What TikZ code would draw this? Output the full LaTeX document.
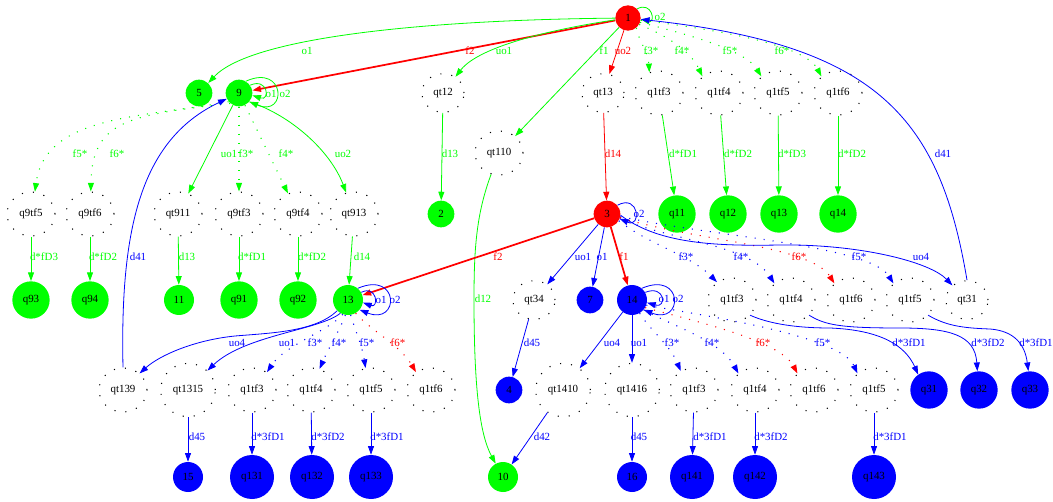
\documentclass[tikz,border=0pt]{standalone}
\usepackage{fontspec}
\setmainfont{Liberation Serif}
\usetikzlibrary{arrows.meta,shapes.geometric}
\definecolor{gg}{RGB}{0,255,0}
\definecolor{rr}{RGB}{255,0,0}
\definecolor{bb}{RGB}{0,0,255}
\begin{document}
\begin{tikzpicture}[x=0.75pt,y=-0.75pt,
  every node/.style={font=\fontsize{8.2}{9}\selectfont, inner sep=0pt},
  sm/.style={circle, fill=#1, minimum size=20pt},
  md/.style={circle, fill=#1, minimum size=22.5pt},
  lg/.style={circle, fill=#1, minimum size=28pt},
  xl/.style={circle, fill=#1, minimum size=33pt},
  dn/.style={ellipse, draw=black, line width=0.8pt, dash pattern=on 0.8pt off 7.5pt, minimum width=36pt, minimum height=33pt},
  dnf/.style={dn, minimum width=31.5pt, minimum height=29pt},
  dns/.style={dn, minimum width=41pt, minimum height=40pt},
  ed/.style={draw=#1, line width=0.6pt, -{Triangle[length=6.5pt,width=4.5pt]}},
  dd/.style={ed=#1, line width=0.8pt, dash pattern=on 0.8pt off 6pt},
  thk/.style={line width=1.3pt},
  lab/.style={text=#1}]
\useasboundingbox (0,0) rectangle (1053,502);
% ---- nodes
\node[sm=rr, minimum size=19pt] (n1) at (628,18) {1};
\node[sm=gg] (n5) at (199,93) {5};
\node[sm=gg] (n9) at (239,93) {9};
\node[dnf] (qt12) at (443,93) {qt12};
\node[dnf] (qt13) at (603,93) {qt13};
\node[dn] (a3) at (659,93) {q1tf3};
\node[dn] (a4) at (719,93) {q1tf4};
\node[dn] (a5) at (778,93) {q1tf5};
\node[dn] (a6) at (838,93) {q1tf6};
\node[dn] (qt110) at (499,153) {qt110};
\node[dn] (b5) at (31,214) {q9tf5};
\node[dn] (b6) at (90,214) {q9tf6};
\node[dn] (qt911) at (178,214) {qt911};
\node[dn] (b3) at (239,214) {q9tf3};
\node[dn] (b4) at (298,214) {q9tf4};
\node[dn] (qt913) at (354,214) {qt913};
\node[sm=gg] (n2) at (441,214) {2};
\node[sm=rr] (n3) at (607,214) {3};
\node[lg=gg] (q11) at (677,214) {q11};
\node[lg=gg] (q12) at (728,214) {q12};
\node[lg=gg] (q13) at (779,214) {q13};
\node[lg=gg] (q14) at (838,214) {q14};
\node[lg=gg] (q93) at (31,300) {q93};
\node[lg=gg] (q94) at (90,300) {q94};
\node[md=gg] (n11) at (179,300) {11};
\node[lg=gg] (q91) at (239,300) {q91};
\node[lg=gg] (q92) at (298,300) {q92};
\node[md=gg] (n13) at (348,300) {13};
\node[dnf] (qt34) at (534,300) {qt34};
\node[sm=bb] (n7) at (590,300) {7};
\node[md=bb] (n14) at (632,300) {14};
\node[dn] (c3) at (732,300) {q1tf3};
\node[dn] (c4) at (791,300) {q1tf4};
\node[dn] (c6) at (851,300) {q1tf6};
\node[dn] (c5) at (910,300) {q1tf5};
\node[dnf] (qt31) at (967,300) {qt31};
\node[dn] (qt139) at (123,390) {qt139};
\node[dns] (qt1315) at (188,390) {qt1315};
\node[dn] (d3) at (252,390) {q1tf3};
\node[dn] (d4) at (311,390) {q1tf4};
\node[dn] (d5) at (371,390) {q1tf5};
\node[dn] (d6) at (431,390) {q1tf6};
\node[sm=bb] (n4) at (509,390) {4};
\node[dns] (qt1410) at (563,390) {qt1410};
\node[dns] (qt1416) at (632,390) {qt1416};
\node[dn] (e3) at (694,390) {q1tf3};
\node[dn] (e4) at (755,390) {q1tf4};
\node[dn] (e6) at (814,390) {q1tf6};
\node[dn] (e5) at (874,390) {q1tf5};
\node[lg=bb] (q31) at (929,390) {q31};
\node[lg=bb] (q32) at (979,390) {q32};
\node[lg=bb] (q33) at (1030,390) {q33};
\node[md=bb] (n15) at (188,477) {15};
\node[xl=bb] (q131) at (252,477) {q131};
\node[xl=bb] (q132) at (312,477) {q132};
\node[xl=bb] (q133) at (371,477) {q133};
\node[md=gg] (n10) at (503,477) {10};
\node[md=bb] (n16) at (632,477) {16};
\node[xl=bb] (q141) at (692,477) {q141};
\node[xl=bb] (q142) at (755,477) {q142};
\node[xl=bb] (q143) at (874,477) {q143};
% ---- edges from 1
\draw[ed=gg] (n1) .. controls (420,20) and (250,38) .. (n5);
\draw[ed=rr, thk] (n1) -- (n9);
\draw[ed=gg] (n1) .. controls (560,28) and (480,45) .. (qt12);
\draw[ed=gg] (n1) -- (qt110);
\draw[ed=rr] (n1) -- (qt13);
\draw[ed=gg] (n1.45) .. controls +(15,-8) and +(15,4) .. (n1.-5);
\draw[dd=gg] (n1.-50) .. controls (640,45) and (648,50) .. (a3.115);
\draw[dd=gg] (n1.-30) .. controls (665,35) and (690,50) .. (a4.135);
\draw[dd=gg] (n1.-20) .. controls (690,35) and (745,50) .. (a5.135);
\draw[dd=gg] (n1.-10) .. controls (720,30) and (805,45) .. (a6.135);
\draw[ed=bb] (qt31.north) .. controls (940,120) and (880,45) .. (n1);
% ---- edges from 9
\draw[ed=gg] (n9.35) .. controls +(18,-8) and +(18,6) .. (n9.-10);
\draw[ed=gg] (n9.60) .. controls +(40,-18) and +(38,16) .. (n9.-40);
\draw[dd=gg] (n9.-140) .. controls (140,118) and (45,115) .. (b5.80);
\draw[dd=gg] (n9.-130) .. controls (130,115) and (92,120) .. (b6.88);
\draw[ed=gg] (n9) -- (qt911);
\draw[dd=gg] (n9) -- (b3);
\draw[dd=gg] (n9) -- (b4);
\draw[ed=gg] (n9.-40) .. controls (290,115) and (330,150) .. (qt913.110);
\draw[ed=bb] (qt139.north) .. controls (120,230) and (140,140) .. (n9);
% ---- row 1 -> row 2
\draw[ed=gg] (qt12) -- (n2);
\draw[ed=gg] (qt110) .. controls (476,215) and (474,250) .. (474,300) .. controls (474,390) and (480,435) .. (n10);
\draw[ed=rr] (qt13) -- (n3);
\draw[ed=gg] (a3) -- (q11);
\draw[ed=gg] (a4) -- (q12);
\draw[ed=gg] (a5) -- (q13);
\draw[ed=gg] (a6) -- (q14);
\draw[ed=gg] (b5) -- (q93);
\draw[ed=gg] (b6) -- (q94);
\draw[ed=gg] (qt911) -- (n11);
\draw[ed=gg] (b3) -- (q91);
\draw[ed=gg] (b4) -- (q92);
\draw[ed=gg] (qt913) -- (n13);
% ---- edges from 3
\draw[ed=bb] (n3.40) .. controls +(22,-12) and +(22,10) .. (n3.-20);
\draw[ed=rr, thk] (n3) -- (n13);
\draw[ed=bb] (n3) -- (qt34);
\draw[ed=bb] (n3) -- (n7);
\draw[ed=rr, thk] (n3) -- (n14);
\draw[dd=bb] (n3.-30) .. controls (650,245) and (690,255) .. (c3.130);
\draw[dd=bb] (n3.-20) .. controls (670,240) and (750,245) .. (c4.135);
\draw[dd=rr] (n3.-15) .. controls (690,240) and (810,245) .. (c6.135);
\draw[dd=bb] (n3.-10) .. controls (700,235) and (870,245) .. (c5.135);
\draw[ed=bb] (n3.-5) .. controls (660,245) and (720,246) .. (780,245) .. controls (860,244) and (930,262) .. (qt31.135);
\draw[ed=bb] (qt34) -- (n4);
\draw[ed=bb] (c3.-40) .. controls (765,322) and (790,328) .. (830,328) .. controls (880,330) and (905,345) .. (q31.125);
\draw[ed=bb] (c4.-40) .. controls (825,325) and (840,328) .. (900,328) .. controls (950,328) and (975,335) .. (q32.95);
\draw[ed=bb] (c5.-40) .. controls (945,325) and (960,328) .. (990,329) .. controls (1015,331) and (1025,345) .. (q33.95);
% ---- edges from 13
\draw[ed=bb] (n13.30) .. controls +(16,-8) and +(16,6) .. (n13.-10);
\draw[ed=bb] (n13.50) .. controls +(42,-18) and +(40,16) .. (n13.-40);
\draw[ed=bb] (n13.-135) .. controls (315,332) and (270,333) .. (235,336) .. controls (195,340) and (160,355) .. (qt139.45);
\draw[ed=bb] (n13.-120) .. controls (320,330) and (245,335) .. (qt1315.45);
\draw[dd=bb] (n13.-110) .. controls (330,330) and (285,345) .. (d3.50);
\draw[dd=bb] (n13.-100) .. controls (340,330) and (330,345) .. (d4.68);
\draw[dd=bb] (n13.-80) .. controls (355,330) and (362,345) .. (d5.104);
\draw[dd=rr] (n13.-60) .. controls (370,330) and (400,345) .. (d6.130);
\draw[ed=bb] (qt1315) -- (n15);
\draw[ed=bb] (d3) -- (q131);
\draw[ed=bb] (d4) -- (q132);
\draw[ed=bb] (d5) -- (q133);
% ---- edges from 14
\draw[ed=bb] (n14.30) .. controls +(20,-8) and +(20,6) .. (n14.-10);
\draw[ed=bb] (n14.50) .. controls +(42,-18) and +(40,16) .. (n14.-40);
\draw[ed=bb] (n14) -- (qt1410);
\draw[ed=bb] (n14) -- (qt1416);
\draw[dd=bb] (n14.-60) .. controls (650,330) and (670,345) .. (e3.125);
\draw[dd=bb] (n14.-40) .. controls (670,325) and (720,340) .. (e4.135);
\draw[dd=rr] (n14.-30) .. controls (690,320) and (780,340) .. (e6.135);
\draw[dd=bb] (n14.-20) .. controls (700,315) and (840,335) .. (e5.135);
\draw[ed=bb] (qt1410) -- (n10);
\draw[ed=bb] (qt1416) -- (n16);
\draw[ed=bb] (e3) -- (q141);
\draw[ed=bb] (e4) -- (q142);
\draw[ed=bb] (e5) -- (q143);
% ---- labels
\node[lab=gg] (l1) at (307,51) {o1};
\node[lab=rr] (l2) at (470,51) {f2};
\node[lab=gg] (l3) at (504,51) {uo1};
\node[lab=gg] (l4) at (604,51) {f1};
\node[lab=rr] (l5) at (623,51) {uo2};
\node[lab=gg] (l6) at (660,17) {o2};
\node[lab=gg] (l7) at (651,51) {f3*};
\node[lab=gg] (l8) at (682,51) {f4*};
\node[lab=gg] (l9) at (730,51) {f5*};
\node[lab=gg] (l10) at (782,51) {f6*};
\node[lab=gg] (l11) at (271,94) {o1};
\node[lab=gg] (l12) at (285,94) {o2};
\node[lab=gg] (l13) at (80,154) {f5*};
\node[lab=gg] (l14) at (117,154) {f6*};
\node[lab=gg] (l15) at (229,154) {uo1};
\node[lab=gg] (l16) at (246,154) {f3*};
\node[lab=gg] (l17) at (286,154) {f4*};
\node[lab=gg] (l18) at (343,154) {uo2};
\node[lab=gg] (l19) at (450,154) {d13};
\node[lab=rr] (l20) at (613,154) {d14};
\node[lab=gg] (l21) at (683,154) {d*fD1};
\node[lab=gg] (l22) at (738,154) {d*fD2};
\node[lab=gg] (l23) at (792,154) {d*fD3};
\node[lab=gg] (l24) at (852,154) {d*fD2};
\node[lab=bb] (l25) at (943,154) {d41};
\node[lab=bb] (l26) at (639,214) {o2};
\node[lab=gg] (l27) at (44,257) {d*fD3};
\node[lab=gg] (l28) at (103,257) {d*fD2};
\node[lab=bb] (l29) at (138,257) {d41};
\node[lab=gg] (l30) at (187,257) {d13};
\node[lab=gg] (l31) at (252,257) {d*fD1};
\node[lab=gg] (l32) at (312,257) {d*fD2};
\node[lab=gg] (l33) at (362,257) {d14};
\node[lab=rr] (l34) at (498,257) {f2};
\node[lab=bb] (l35) at (583,257) {uo1};
\node[lab=bb] (l36) at (602,257) {o1};
\node[lab=rr] (l37) at (624,257) {f1};
\node[lab=bb] (l38) at (686,257) {f3*};
\node[lab=bb] (l39) at (741,257) {f4*};
\node[lab=rr] (l40) at (799,257) {f6*};
\node[lab=bb] (l41) at (859,257) {f5*};
\node[lab=bb] (l42) at (921,257) {uo4};
\node[lab=gg] (l43) at (483,299) {d12};
\node[lab=bb] (l44) at (381,300) {o1};
\node[lab=bb] (l45) at (395,300) {o2};
\node[lab=bb] (l46) at (664,299) {o1};
\node[lab=bb] (l47) at (678,299) {o2};
\node[lab=bb] (l48) at (237,343) {uo4};
\node[lab=bb] (l49) at (287,343) {uo1};
\node[lab=bb] (l50) at (315,343) {f3*};
\node[lab=bb] (l51) at (339,343) {f4*};
\node[lab=bb] (l52) at (367,343) {f5*};
\node[lab=rr] (l53) at (398,343) {f6*};
\node[lab=bb] (l54) at (532,343) {d45};
\node[lab=bb] (l55) at (612,343) {uo4};
\node[lab=bb] (l56) at (639,343) {uo1};
\node[lab=bb] (l57) at (672,343) {f3*};
\node[lab=bb] (l58) at (712,343) {f4*};
\node[lab=rr] (l59) at (763,343) {f6*};
\node[lab=bb] (l60) at (823,343) {f5*};
\node[lab=bb] (l61) at (909,343) {d*3fD1};
\node[lab=bb] (l62) at (988,343) {d*3fD2};
\node[lab=bb] (l63) at (1036,343) {d*3fD1};
\node[lab=bb] (l64) at (197,437) {d45};
\node[lab=bb] (l65) at (268,437) {d*3fD1};
\node[lab=bb] (l66) at (328,437) {d*3fD2};
\node[lab=bb] (l67) at (387,437) {d*3fD1};
\node[lab=bb] (l68) at (542,437) {d42};
\node[lab=bb] (l69) at (639,437) {d45};
\node[lab=bb] (l70) at (710,437) {d*3fD1};
\node[lab=bb] (l71) at (771,437) {d*3fD2};
\node[lab=bb] (l72) at (890,437) {d*3fD1};
\end{tikzpicture}
\end{document}
